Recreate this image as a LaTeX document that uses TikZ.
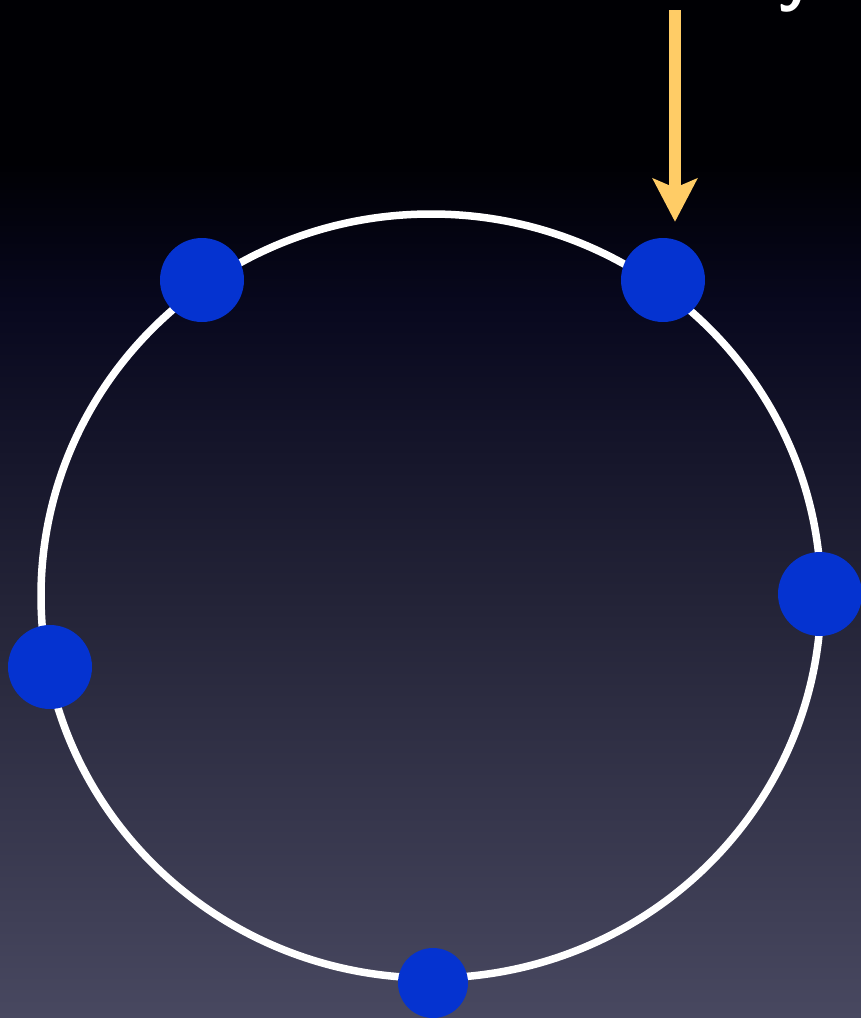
\documentclass[tikz,border=0pt]{standalone}
\usepackage{tikz}
\usetikzlibrary{arrows.meta}

\definecolor{dotblue}{RGB}{5,51,208}
\definecolor{arrowgold}{RGB}{255,204,102}
\definecolor{bgtop}{RGB}{0,0,4}
\definecolor{bgnavy}{RGB}{8,8,30}
\definecolor{bgmid}{RGB}{36,36,56}
\definecolor{bgbot}{RGB}{72,72,96}

\pgfdeclareverticalshading{nightsky}{100bp}{color(0bp)=(bgbot); color(25bp)=(bgbot); color(45bp)=(bgmid); color(60bp)=(bgnavy); color(67bp)=(bgtop); color(100bp)=(bgtop)}

\tikzset{
  ring/.style={draw=white, line width=7.5pt},
  dot/.style={circle, fill=dotblue, inner sep=0pt, minimum size=84pt},
  smalldot/.style={dot, minimum size=70pt},
  pointer/.style={draw=arrowgold, line width=11.5pt, -{Stealth[width=44pt,length=43pt,inset=9pt]}}
}

\begin{document}
\begin{tikzpicture}[x=1pt, y=-1pt]
    % Frame and background
    \useasboundingbox (0,0) rectangle (861,1018);
    \clip (0,0) rectangle (861,1018);
    \shade[shading=nightsky] (0,0) rectangle (861,1018);

    % Title line (cut off at the top)
    \node[anchor=base, text=white, font=\sffamily\bfseries\fontsize{72}{72}\selectfont] (title) at (796,-3) {y};

    % Ring
    \draw[ring] (431,596) ellipse [x radius=390pt, y radius=382pt];

    % Peers on the ring
    \foreach \n/\x/\y in {peerA/202/280, peerB/663/280, peerC/820/594, peerE/50/667} {
      \node[dot] (\n) at (\x,\y) {};
    }
    \node[smalldot] (peerD) at (433,983) {};

    % Pointer
    \coordinate (src) at (675,10);
    \draw[pointer, shorten >=16pt] (src) -- (src |- peerB.north);
  \end{tikzpicture}
\end{document}
